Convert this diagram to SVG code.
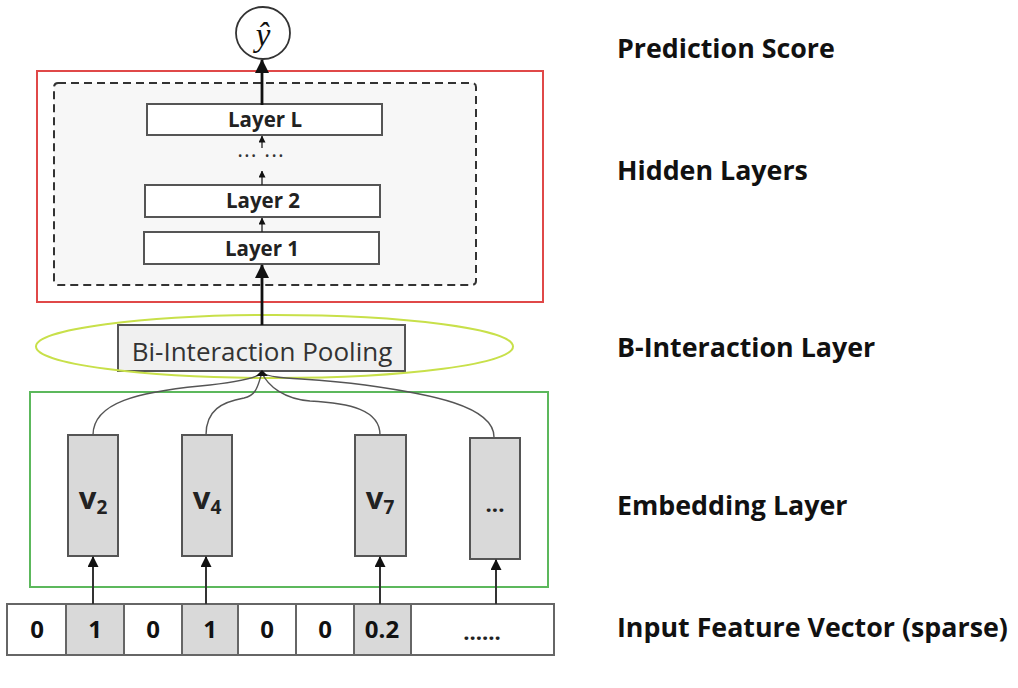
<svg xmlns="http://www.w3.org/2000/svg" width="1018" height="688" viewBox="0 0 1018 688">
<style>
.lbl{font-family:"Open Sans","Liberation Sans",sans-serif;font-weight:bold;font-size:26.8px;fill:#111}
.layer{fill:#fff;stroke:#555;stroke-width:2}
.ltxt{font-family:"Open Sans","Liberation Sans",sans-serif;font-weight:bold;font-size:20.5px;fill:#222;text-anchor:middle}
.emb{fill:#d9d9d9;stroke:#555;stroke-width:2}
.etxt{font-family:"Open Sans","Liberation Sans",sans-serif;font-weight:bold;font-size:31px;fill:#222;text-anchor:middle}
.sub{font-size:19px}
.cell{fill:#fff;stroke:#666;stroke-width:2}
.cellg{fill:#d9d9d9;stroke:#666;stroke-width:2}
.ctxt{font-family:"Open Sans","Liberation Sans",sans-serif;font-weight:bold;font-size:24px;fill:#111;text-anchor:middle}
.curve{fill:none;stroke:#555;stroke-width:1.4}
.thick{stroke:#111;stroke-width:2.8;marker-end:url(#big)}
.thin{stroke:#222;stroke-width:1.3;marker-end:url(#small)}
.inp{stroke:#333;stroke-width:2;marker-end:url(#mid)}
</style>
<defs>
<marker id="big" markerUnits="userSpaceOnUse" viewBox="0 0 14 14" refX="13" refY="7" markerWidth="14" markerHeight="14" orient="auto"><path d="M0,0 L14,7 L0,14 z" fill="#111"/></marker>
<marker id="mid" markerUnits="userSpaceOnUse" viewBox="0 0 11 11" refX="10" refY="5.5" markerWidth="11" markerHeight="11" orient="auto"><path d="M0,0 L11,5.5 L0,11 z" fill="#111"/></marker>
<marker id="small" markerUnits="userSpaceOnUse" viewBox="0 0 7 7" refX="6.5" refY="3.5" markerWidth="7" markerHeight="7" orient="auto"><path d="M0,0 L7,3.5 L0,7 z" fill="#111"/></marker>
</defs>
<rect width="1018" height="688" fill="#fff"/>

<g id="hidden-group">
<rect x="37" y="71" width="506" height="231" fill="none" stroke="#e04848" stroke-width="2"/>
<rect x="54" y="83" width="422" height="202" rx="4" fill="#f7f7f7" stroke="#333" stroke-width="2" stroke-dasharray="8,5"/>
</g>

<g id="embedding-group">
<rect x="30" y="392" width="518" height="195" fill="none" stroke="#5cb85c" stroke-width="2"/>
</g>

<g id="output">
<ellipse cx="263" cy="33" rx="27" ry="26" fill="#fff" stroke="#333" stroke-width="1.8"/>
<text x="263" y="46" font-family="'Liberation Serif',serif" font-style="italic" font-size="33" fill="#111" text-anchor="middle">ŷ</text>
</g>

<g id="layer-L"><rect class="layer" x="147" y="104" width="235" height="31"/><text class="ltxt" x="265" y="127">Layer L</text></g>
<g id="layer-dots"><text x="261" y="163" font-family="'Open Sans',sans-serif" font-size="22" letter-spacing="1" fill="#333" text-anchor="middle">··· ···</text></g>
<g id="layer-2"><rect class="layer" x="145" y="185" width="235" height="32"/><text class="ltxt" x="263" y="208">Layer 2</text></g>
<g id="layer-1"><rect class="layer" x="144" y="232" width="235" height="32"/><text class="ltxt" x="262" y="256">Layer 1</text></g>

<g id="bi-interaction">
<rect x="118" y="325" width="287" height="46" fill="#f0f0f0" stroke="#555" stroke-width="2"/>
<text x="262" y="361" font-family="'Open Sans','Liberation Sans',sans-serif" font-size="26px" fill="#333" text-anchor="middle">Bi-Interaction Pooling</text>
<ellipse cx="274.5" cy="346.5" rx="238.5" ry="31.5" fill="none" stroke="#c8e04a" stroke-width="2"/>
</g>

<g id="emb-v2"><rect class="emb" x="68" y="435" width="50" height="121"/><text class="etxt" x="93" y="509">v<tspan class="sub" dy="5">2</tspan></text></g>
<g id="emb-v4"><rect class="emb" x="182" y="435" width="50" height="121"/><text class="etxt" x="207" y="509">v<tspan class="sub" dy="5">4</tspan></text></g>
<g id="emb-v7"><rect class="emb" x="355" y="435" width="51" height="121"/><text class="etxt" x="380" y="509">v<tspan class="sub" dy="5">7</tspan></text></g>
<g id="emb-more"><rect class="emb" x="470" y="438" width="50" height="121"/><text x="495" y="512" font-family="'Open Sans',sans-serif" font-weight="bold" font-size="22" fill="#222" text-anchor="middle">...</text></g>

<g id="input-vector">
<rect class="cell" x="7" y="604" width="59" height="51"/><text class="ctxt" x="37" y="638">0</text>
<rect class="cellg" x="66" y="604" width="58" height="51"/><text class="ctxt" x="95" y="638">1</text>
<rect class="cell" x="124" y="604" width="58" height="51"/><text class="ctxt" x="153" y="638">0</text>
<rect class="cellg" x="182" y="604" width="56" height="51"/><text class="ctxt" x="210" y="638">1</text>
<rect class="cell" x="238" y="604" width="58" height="51"/><text class="ctxt" x="267" y="638">0</text>
<rect class="cell" x="296" y="604" width="58" height="51"/><text class="ctxt" x="325" y="638">0</text>
<rect class="cellg" x="354" y="604" width="57" height="51"/><text class="ctxt" x="382" y="638">0.2</text>
<rect class="cell" x="411" y="604" width="143" height="51"/><text x="482" y="640" font-family="'Open Sans',sans-serif" font-weight="bold" font-size="22" fill="#222" text-anchor="middle">......</text>
</g>

<g id="connectors">
<line class="thick" x1="262" y1="105" x2="262" y2="60"/>
<line class="thin" x1="262" y1="148" x2="262" y2="136"/>
<line class="thin" x1="262" y1="185" x2="262" y2="171"/>
<line class="thin" x1="262" y1="232" x2="262" y2="218"/>
<line class="thick" x1="262" y1="325" x2="262" y2="265"/>
<path class="curve" d="M93,435 C93,402 140,392 200,386 C240,382 256,378 262,373"/>
<path class="curve" d="M206,435 C206,410 222,402 244,398 C258,395 258,383 262,373"/>
<path class="curve" d="M380,435 C380,410 350,403 310,401 C284,399 268,386 262,373"/>
<path class="curve" d="M494,437 C494,406 430,394 365,385 C305,377 275,380 262,373"/>
<path d="M256,376 L262,370 L268,376 z" fill="#111"/>
<line class="inp" x1="93" y1="604" x2="93" y2="557" stroke="#777"/>
<line class="inp" x1="206" y1="604" x2="206" y2="557"/>
<line class="inp" x1="380" y1="604" x2="380" y2="557"/>
<line class="inp" x1="496" y1="604" x2="496" y2="560"/>
</g>

<g id="labels">
<text class="lbl" x="617" y="58">Prediction Score</text>
<text class="lbl" x="617" y="180">Hidden Layers</text>
<text class="lbl" x="617" y="357">B-Interaction Layer</text>
<text class="lbl" x="617" y="515">Embedding Layer</text>
<text class="lbl" x="617" y="637">Input Feature Vector (sparse)</text>
</g>
</svg>
